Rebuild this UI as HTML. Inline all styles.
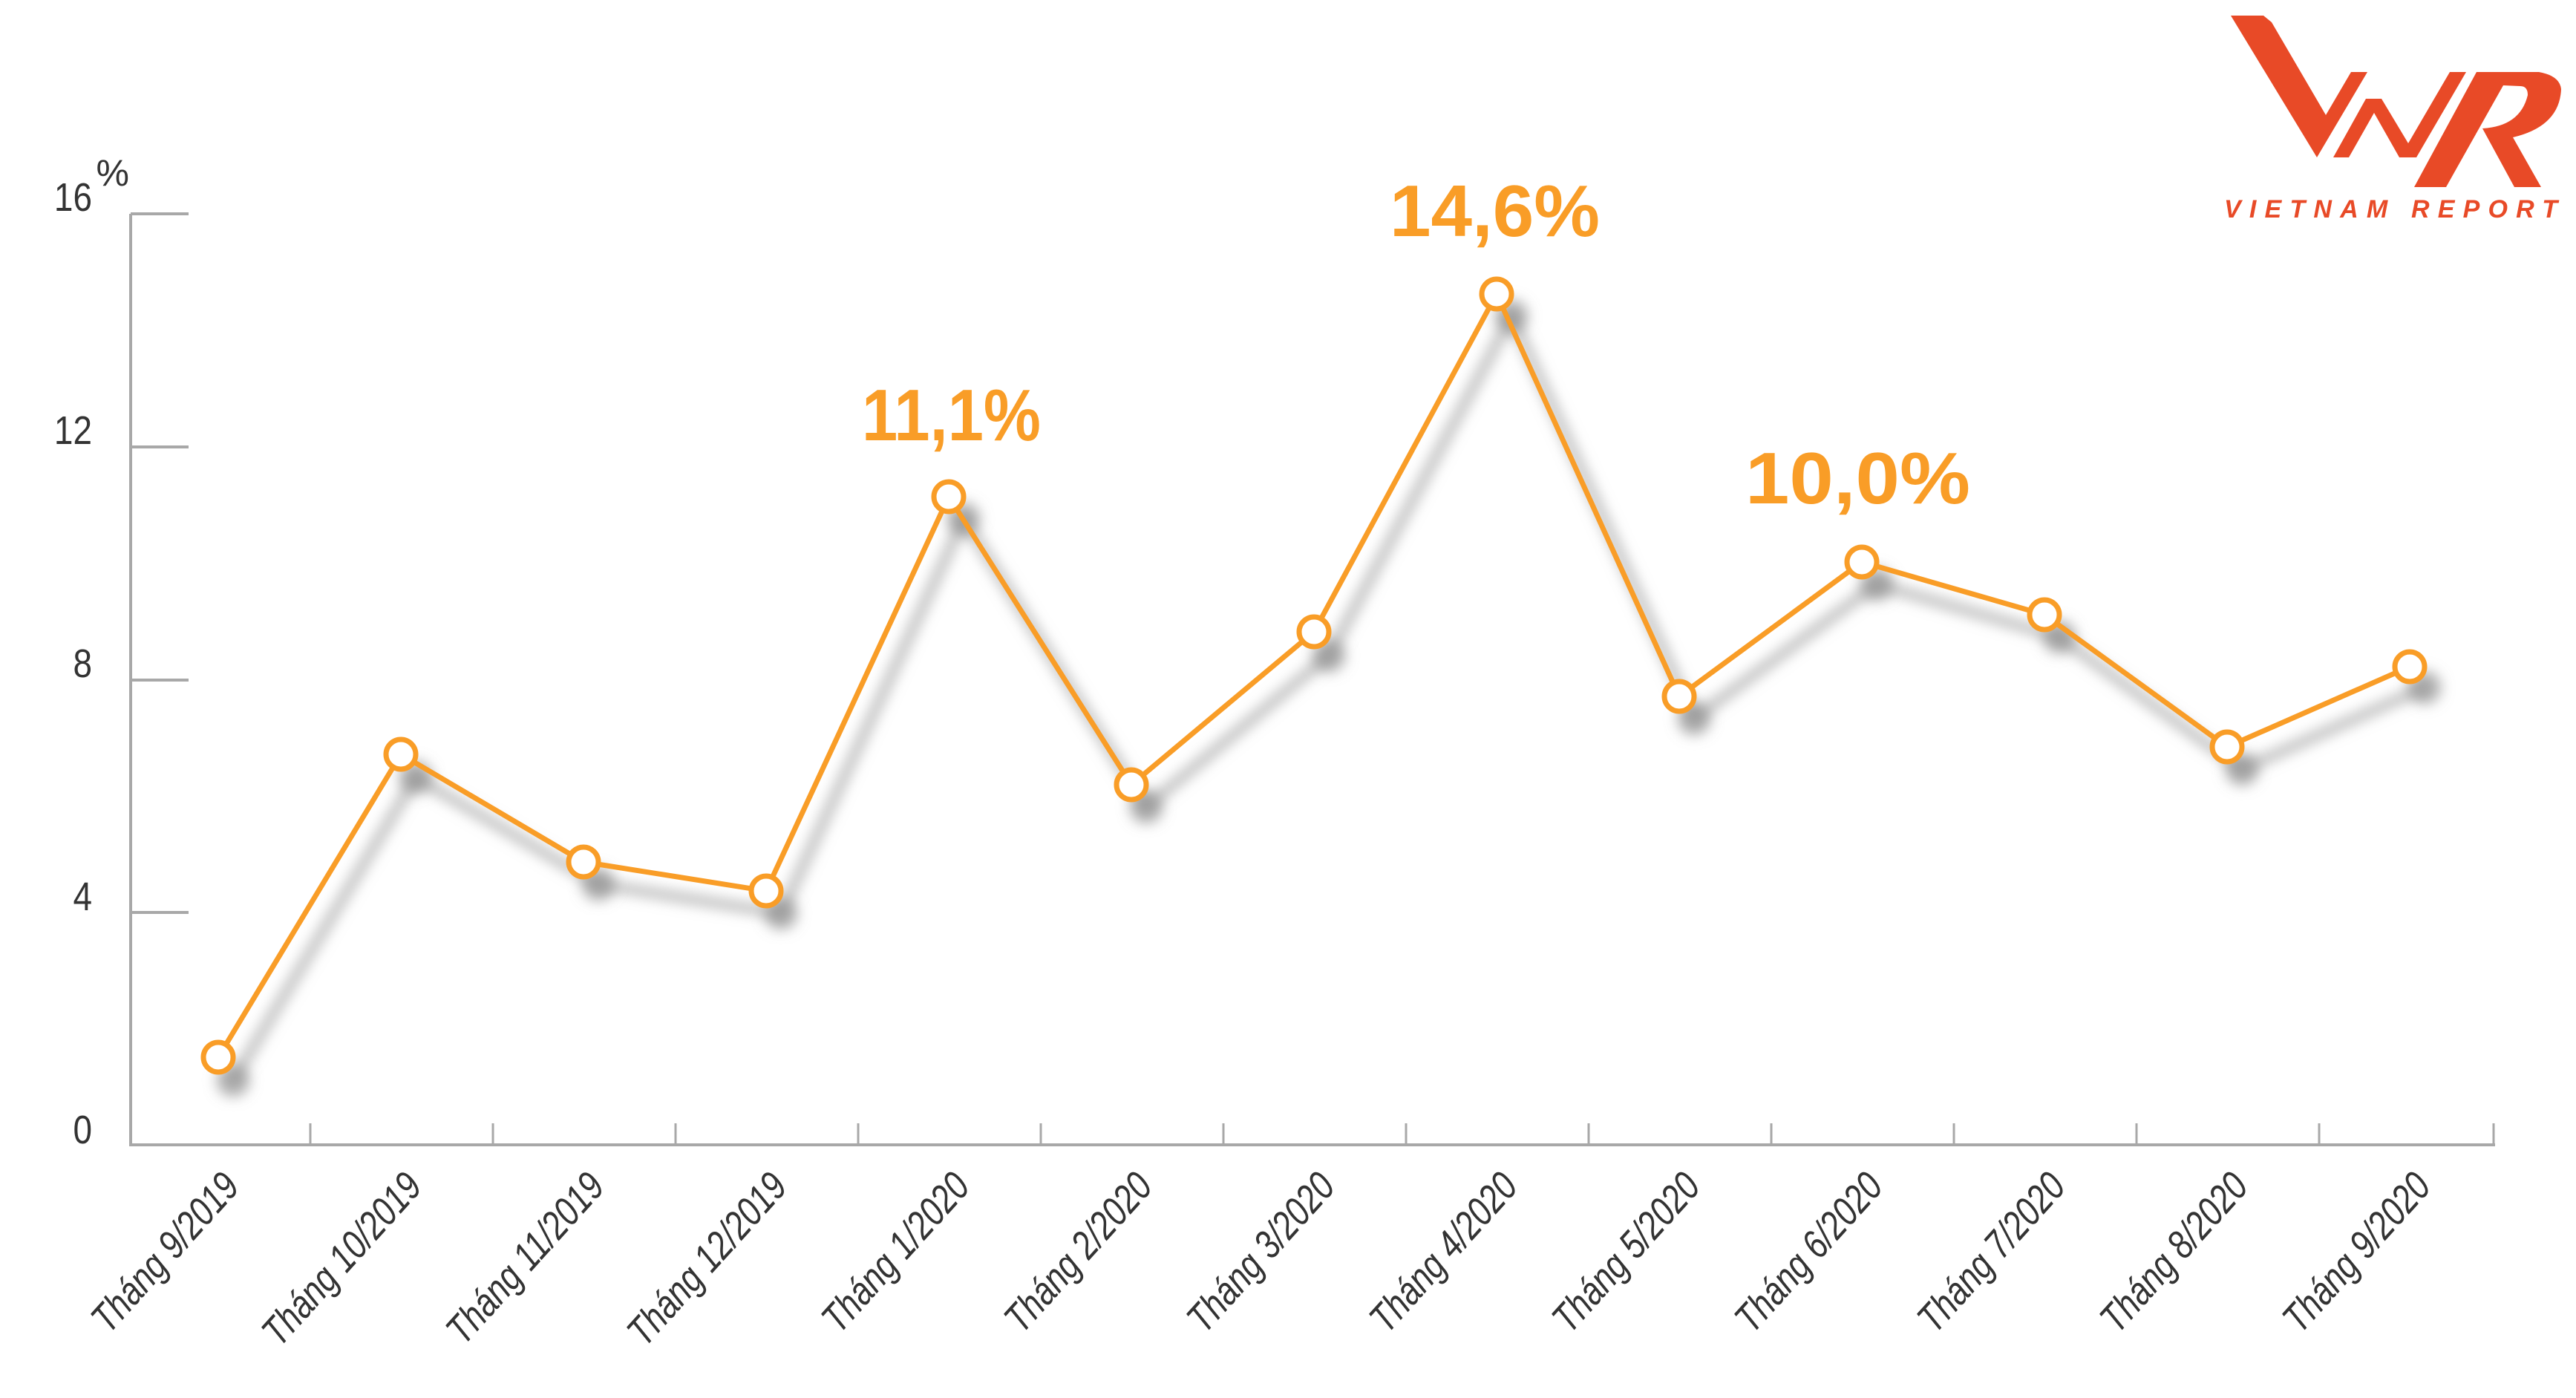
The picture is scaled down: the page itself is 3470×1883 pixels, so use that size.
<!DOCTYPE html>
<html><head><meta charset="utf-8"><style>
html,body{margin:0;padding:0;background:#fff;}
svg{display:block;}
</style></head><body>
<svg width="3470" height="1883" viewBox="0 0 3470 1883" xmlns="http://www.w3.org/2000/svg">
<defs>
<filter id="sh" x="-10%" y="-10%" width="120%" height="120%"><feGaussianBlur stdDeviation="9"/></filter>
</defs>
<g stroke="#a8a8a8" stroke-width="4" fill="none">
<line x1="176" y1="288" x2="176" y2="1544"/>
<line x1="174" y1="1542" x2="3361" y2="1542"/>
<line x1="176" y1="288" x2="254" y2="288"/>
<line x1="176" y1="602" x2="254" y2="602"/>
<line x1="176" y1="916" x2="254" y2="916"/>
<line x1="176" y1="1229" x2="254" y2="1229"/>
<g stroke-width="3">
<line x1="418" y1="1513" x2="418" y2="1542"/><line x1="664" y1="1513" x2="664" y2="1542"/>
<line x1="910" y1="1513" x2="910" y2="1542"/><line x1="1156" y1="1513" x2="1156" y2="1542"/>
<line x1="1402" y1="1513" x2="1402" y2="1542"/><line x1="1648" y1="1513" x2="1648" y2="1542"/>
<line x1="1894" y1="1513" x2="1894" y2="1542"/><line x1="2140" y1="1513" x2="2140" y2="1542"/>
<line x1="2386" y1="1513" x2="2386" y2="1542"/><line x1="2632" y1="1513" x2="2632" y2="1542"/>
<line x1="2878" y1="1513" x2="2878" y2="1542"/><line x1="3124" y1="1513" x2="3124" y2="1542"/>
<line x1="3359" y1="1513" x2="3359" y2="1542"/>
</g></g>
<g font-family="'Liberation Sans',sans-serif" font-size="54" fill="#333" text-anchor="end">
<text x="124" y="284" transform="translate(124 0) scale(0.85 1) translate(-124 0)">16</text>
<text x="124" y="598" transform="translate(124 0) scale(0.85 1) translate(-124 0)">12</text>
<text x="124" y="912" transform="translate(124 0) scale(0.85 1) translate(-124 0)">8</text>
<text x="124" y="1226" transform="translate(124 0) scale(0.85 1) translate(-124 0)">4</text>
<text x="124" y="1540" transform="translate(124 0) scale(0.85 1) translate(-124 0)">0</text>
<text x="174" y="250" font-size="50">%</text>
</g>
<polyline filter="url(#sh)" fill="none" stroke="#9a9a9a" stroke-opacity="0.75" stroke-width="12" stroke-linejoin="round"
points="314,1455 560,1047 806,1191 1052,1230 1298,699 1544,1087 1790,883 2036,426 2282,968 2528,787 2774,858 3020,1036 3266,926"/>
<g filter="url(#sh)" fill="#8a8a8a" fill-opacity="0.7">
<circle cx="314" cy="1455" r="22"/><circle cx="560" cy="1047" r="22"/><circle cx="806" cy="1191" r="22"/>
<circle cx="1052" cy="1230" r="22"/><circle cx="1298" cy="699" r="22"/><circle cx="1544" cy="1087" r="22"/>
<circle cx="1790" cy="883" r="22"/><circle cx="2036" cy="426" r="22"/><circle cx="2282" cy="968" r="22"/>
<circle cx="2528" cy="787" r="22"/><circle cx="2774" cy="858" r="22"/><circle cx="3020" cy="1036" r="22"/>
<circle cx="3266" cy="926" r="22"/>
</g>
<polyline fill="none" stroke="#F99D27" stroke-width="7" stroke-linejoin="round"
points="294,1424 540,1016 786,1161 1032,1200 1278,669 1524,1057 1770,851 2016,396 2262,938 2508,757 2754,828 3000,1006 3246,898"/>
<g fill="#fff" stroke="#F99D27" stroke-width="7">
<circle cx="294" cy="1424" r="20"/><circle cx="540" cy="1016" r="20"/><circle cx="786" cy="1161" r="20"/>
<circle cx="1032" cy="1200" r="20"/><circle cx="1278" cy="669" r="20"/><circle cx="1524" cy="1057" r="20"/>
<circle cx="1770" cy="851" r="20"/><circle cx="2016" cy="396" r="20"/><circle cx="2262" cy="938" r="20"/>
<circle cx="2508" cy="757" r="20"/><circle cx="2754" cy="828" r="20"/><circle cx="3000" cy="1006" r="20"/>
<circle cx="3246" cy="898" r="20"/>
</g>
<g font-family="'Liberation Sans',sans-serif" font-weight="bold" font-size="98" fill="#F99D27">
<text x="1161" y="593" textLength="241" lengthAdjust="spacingAndGlyphs">11,1%</text>
<text x="1872" y="318" textLength="283" lengthAdjust="spacingAndGlyphs">14,6%</text>
<text x="2351" y="678" textLength="303" lengthAdjust="spacingAndGlyphs">10,0%</text>
</g>
<g font-family="'Liberation Sans',sans-serif" font-style="italic" font-size="54" fill="#333" text-anchor="end">
<text transform="translate(325 1600) rotate(-48) scale(0.8 1)">Tháng 9/2019</text>
<text transform="translate(571 1600) rotate(-48) scale(0.8 1)">Tháng 10/2019</text>
<text transform="translate(817 1600) rotate(-48) scale(0.8 1)">Tháng 11/2019</text>
<text transform="translate(1063 1600) rotate(-48) scale(0.8 1)">Tháng 12/2019</text>
<text transform="translate(1309 1600) rotate(-48) scale(0.8 1)">Tháng 1/2020</text>
<text transform="translate(1555 1600) rotate(-48) scale(0.8 1)">Tháng 2/2020</text>
<text transform="translate(1801 1600) rotate(-48) scale(0.8 1)">Tháng 3/2020</text>
<text transform="translate(2047 1600) rotate(-48) scale(0.8 1)">Tháng 4/2020</text>
<text transform="translate(2293 1600) rotate(-48) scale(0.8 1)">Tháng 5/2020</text>
<text transform="translate(2539 1600) rotate(-48) scale(0.8 1)">Tháng 6/2020</text>
<text transform="translate(2785 1600) rotate(-48) scale(0.8 1)">Tháng 7/2020</text>
<text transform="translate(3031 1600) rotate(-48) scale(0.8 1)">Tháng 8/2020</text>
<text transform="translate(3277 1600) rotate(-48) scale(0.8 1)">Tháng 9/2020</text>
</g>
<g fill="#E84A27">
<polygon points="3005,21 3049,21 3060,30 3133,155 3167,97 3189,97 3121,212"/>
<polygon points="3143,212 3187,133 3208,133 3244,193 3300,97 3322,97 3255,212 3232,212 3198,152 3164,212"/>
<path d="M3252,252 L3336,97 L3420,97 Q3448,102 3450,120 Q3448,170 3385,185 L3423,252 L3387,252 L3344,173 Q3395,170 3405,128 Q3405,116 3395,116 L3372,115 L3295,252 Z"/>
</g>
<text x="2996" y="293" font-family="'Liberation Sans',sans-serif" font-weight="bold" font-style="italic" font-size="34" fill="#E84A27" textLength="449" lengthAdjust="spacing">VIETNAM REPORT</text>
</svg>
</body></html>
